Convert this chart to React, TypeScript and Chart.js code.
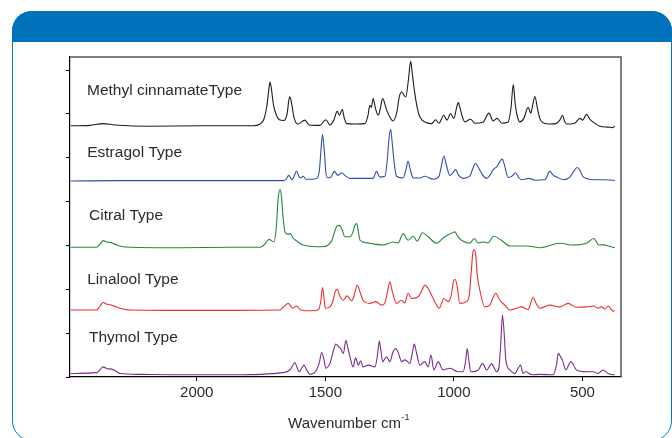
import React, { useEffect, useRef } from "react";
import { Chart, registerables } from "chart.js";

Chart.register(...registerables);

const seriesNames = ["Methyl cinnamateType", "Estragol Type", "Citral Type", "Linalool Type", "Thymol Type"];
const seriesColors = ["#1c1c1c", "#2f4fa8", "#22893c", "#e9302e", "#7a2c8e"];
const xTickValues = [2000, 1500, 1000, 500];
const yTickValues = [0, 1, 2, 3, 4, 5, 6, 7];
const labelAnchors: [number, number][] = [[2427, 6.52], [2426, 5.11], [2419, 3.67], [2426, 2.21], [2419, 0.9]];
const axisTitleMain = "Wavenumber cm";
const axisTitleSup = "-1";

const methylCinnamate: [number, number][] = [
  [2490, 5.73], [2415, 5.74], [2365, 5.78], [2318, 5.75], [2182, 5.72], [1988, 5.73], [1782, 5.73], [1754, 5.77],
  [1739, 5.88], [1727, 6.2], [1719, 6.59], [1715, 6.73], [1710, 6.59], [1702, 6.22], [1692, 6.0], [1676, 5.86],
  [1665, 5.85], [1649, 5.99], [1642, 6.31], [1638, 6.39], [1632, 6.27], [1622, 5.93], [1607, 5.77], [1579, 5.86],
  [1563, 5.75], [1521, 5.74], [1498, 5.87], [1482, 5.75], [1467, 5.86], [1454, 6.06], [1445, 5.97], [1434, 6.1],
  [1426, 5.9], [1417, 5.78], [1385, 5.77], [1346, 5.78], [1334, 5.97], [1327, 6.2], [1321, 6.15], [1314, 6.35],
  [1305, 6.13], [1294, 5.97], [1286, 6.13], [1277, 6.35], [1262, 6.1], [1249, 5.93], [1236, 5.84], [1222, 6.04],
  [1212, 6.4], [1203, 6.5], [1194, 6.43], [1187, 6.39], [1177, 6.77], [1168, 7.2], [1161, 6.88], [1152, 6.47],
  [1142, 6.13], [1132, 5.93], [1106, 5.8], [1086, 5.78], [1071, 5.87], [1058, 5.79], [1039, 5.97], [1027, 5.86],
  [1013, 6.01], [1000, 5.9], [990, 6.13], [983, 6.26], [975, 6.11], [965, 5.9], [957, 5.82], [935, 5.88],
  [918, 5.79], [887, 5.81], [864, 6.02], [847, 5.84], [832, 5.9], [813, 5.79], [790, 5.81], [778, 6.13],
  [769, 6.67], [761, 6.2], [751, 5.9], [743, 5.82], [728, 5.9], [711, 6.15], [701, 6.02], [693, 6.22],
  [685, 6.4], [675, 6.13], [666, 5.9], [653, 5.8], [627, 5.77], [604, 5.78], [588, 5.86], [578, 5.97],
  [569, 5.83], [561, 5.77], [530, 5.79], [510, 5.9], [499, 5.86], [484, 5.99], [471, 5.88], [452, 5.79],
  [432, 5.72], [401, 5.7], [381, 5.69], [374, 5.73],
];

const estragol: [number, number][] = [
  [2490, 4.47], [2299, 4.48], [2065, 4.48], [1832, 4.48], [1665, 4.48], [1653, 4.51], [1642, 4.6], [1630, 4.5],
  [1620, 4.6], [1612, 4.7], [1603, 4.58], [1597, 4.54], [1586, 4.58], [1575, 4.51], [1534, 4.53], [1523, 4.72],
  [1517, 5.17], [1511, 5.53], [1504, 5.17], [1498, 4.67], [1490, 4.54], [1478, 4.56], [1465, 4.69], [1451, 4.6],
  [1437, 4.66], [1424, 4.6], [1404, 4.53], [1365, 4.53], [1314, 4.53], [1301, 4.69], [1288, 4.56], [1268, 4.58],
  [1259, 4.95], [1253, 5.4], [1246, 5.65], [1239, 5.29], [1231, 4.83], [1223, 4.58], [1197, 4.54], [1187, 4.72],
  [1178, 4.92], [1169, 4.72], [1158, 4.54], [1132, 4.54], [1113, 4.58], [1080, 4.51], [1058, 4.58], [1048, 4.83],
  [1039, 5.04], [1029, 4.83], [1016, 4.6], [1006, 4.64], [993, 4.73], [981, 4.6], [964, 4.53], [938, 4.58],
  [926, 4.76], [916, 4.87], [903, 4.76], [887, 4.6], [873, 4.53], [860, 4.6], [847, 4.73], [833, 4.8],
  [821, 4.92], [812, 4.97], [804, 4.85], [789, 4.55], [775, 4.58], [760, 4.66], [749, 4.56], [737, 4.5],
  [707, 4.53], [685, 4.49], [646, 4.5], [627, 4.69], [613, 4.6], [599, 4.56], [575, 4.5], [549, 4.56],
  [534, 4.69], [521, 4.78], [510, 4.72], [499, 4.58], [484, 4.53], [452, 4.5], [413, 4.5], [381, 4.49], [374, 4.48],
];

const citral: [number, number][] = [
  [2490, 2.96], [2389, 2.96], [2376, 3.03], [2364, 3.11], [2349, 3.08], [2331, 3.06], [2314, 3.02], [2299, 2.99],
  [2260, 2.96], [2065, 2.95], [1871, 2.96], [1754, 2.96], [1735, 3.03], [1719, 3.14], [1700, 3.08], [1690, 3.46],
  [1684, 4.03], [1676, 4.28], [1670, 4.08], [1665, 3.69], [1657, 3.31], [1645, 3.26], [1635, 3.27], [1626, 3.17],
  [1612, 3.11], [1599, 3.05], [1586, 3.01], [1534, 2.97], [1513, 2.97], [1489, 3.01], [1474, 3.12], [1463, 3.33],
  [1455, 3.44], [1446, 3.46], [1435, 3.37], [1424, 3.2], [1404, 3.2], [1393, 3.3], [1385, 3.46], [1378, 3.5],
  [1371, 3.3], [1365, 3.12], [1346, 3.07], [1327, 3.05], [1275, 3.01], [1236, 3.08], [1217, 3.06], [1197, 3.27],
  [1178, 3.12], [1158, 3.21], [1143, 3.1], [1122, 3.29], [1100, 3.2], [1067, 3.05], [1042, 3.17], [1016, 3.26],
  [996, 3.31], [985, 3.21], [970, 3.12], [938, 3.05], [921, 3.16], [906, 3.06], [886, 3.08], [867, 3.06],
  [845, 3.21], [815, 3.12], [782, 2.99], [717, 2.99], [666, 2.95], [588, 3.05], [536, 3.01], [484, 3.05],
  [456, 3.16], [435, 3.01], [420, 3.02], [400, 2.99], [381, 2.96], [374, 2.95],
];

const linalool: [number, number][] = [
  [2490, 1.53], [2389, 1.53], [2376, 1.62], [2364, 1.7], [2349, 1.66], [2331, 1.64], [2314, 1.6], [2299, 1.57],
  [2260, 1.53], [1988, 1.52], [1676, 1.53], [1664, 1.59], [1644, 1.68], [1627, 1.57], [1612, 1.62], [1596, 1.53],
  [1547, 1.51], [1525, 1.55], [1517, 1.75], [1511, 2.04], [1504, 1.75], [1500, 1.57], [1482, 1.6], [1470, 1.75],
  [1462, 1.94], [1454, 2.0], [1444, 1.85], [1431, 1.75], [1415, 1.85], [1398, 1.74], [1387, 1.87], [1376, 2.1],
  [1365, 1.94], [1353, 1.75], [1327, 1.68], [1303, 1.72], [1281, 1.64], [1268, 1.69], [1257, 1.98], [1249, 2.17],
  [1239, 1.94], [1223, 1.68], [1204, 1.75], [1191, 1.69], [1178, 1.91], [1165, 1.79], [1139, 1.83], [1124, 1.98],
  [1113, 2.1], [1101, 2.03], [1087, 1.87], [1072, 1.69], [1057, 1.57], [1039, 1.79], [1022, 1.72], [1010, 1.87],
  [1002, 2.17], [996, 2.23], [988, 2.1], [977, 1.68], [951, 1.72], [940, 1.87], [932, 2.43], [926, 2.84],
  [921, 2.91], [915, 2.78], [909, 2.32], [899, 1.98], [880, 1.6], [860, 1.64], [847, 1.82], [838, 1.91],
  [821, 1.75], [802, 1.64], [782, 1.53], [737, 1.6], [711, 1.54], [701, 1.69], [692, 1.82], [681, 1.69],
  [666, 1.57], [627, 1.64], [588, 1.6], [556, 1.68], [523, 1.59], [484, 1.6], [458, 1.62], [439, 1.57],
  [426, 1.6], [413, 1.55], [400, 1.62], [381, 1.5], [374, 1.52],
];

const thymol: [number, number][] = [
  [2490, 0.08], [2389, 0.1], [2376, 0.17], [2364, 0.23], [2349, 0.19], [2331, 0.18], [2314, 0.13], [2299, 0.08],
  [2221, 0.06], [2053, 0.05], [1871, 0.05], [1664, 0.1], [1638, 0.16], [1628, 0.25], [1618, 0.33], [1611, 0.23],
  [1602, 0.12], [1591, 0.21], [1583, 0.27], [1574, 0.18], [1560, 0.06], [1534, 0.16], [1523, 0.34], [1514, 0.56],
  [1505, 0.39], [1498, 0.2], [1482, 0.31], [1470, 0.57], [1459, 0.75], [1449, 0.7], [1441, 0.65], [1430, 0.54],
  [1420, 0.83], [1412, 0.66], [1404, 0.46], [1392, 0.23], [1382, 0.44], [1372, 0.27], [1363, 0.37], [1353, 0.23],
  [1333, 0.27], [1307, 0.23], [1297, 0.5], [1290, 0.82], [1284, 0.61], [1277, 0.35], [1262, 0.46], [1249, 0.35],
  [1237, 0.57], [1226, 0.65], [1216, 0.55], [1203, 0.35], [1190, 0.39], [1171, 0.31], [1161, 0.57], [1154, 0.75],
  [1146, 0.57], [1132, 0.27], [1113, 0.35], [1100, 0.23], [1089, 0.5], [1078, 0.16], [1061, 0.35], [1042, 0.16],
  [1016, 0.2], [983, 0.12], [964, 0.12], [955, 0.34], [948, 0.65], [942, 0.39], [934, 0.12], [905, 0.16],
  [888, 0.31], [873, 0.16], [853, 0.3], [834, 0.12], [825, 0.21], [818, 0.73], [811, 1.41], [804, 0.96],
  [798, 0.39], [782, 0.16], [763, 0.08], [749, 0.21], [741, 0.27], [731, 0.08], [720, 0.12], [698, 0.05],
  [666, 0.06], [614, 0.05], [601, 0.27], [594, 0.54], [585, 0.46], [578, 0.39], [565, 0.16], [545, 0.35],
  [523, 0.16], [484, 0.12], [458, 0.12], [439, 0.08], [420, 0.16], [400, 0.08], [381, 0.05], [374, 0.05],
];

const allSeries = [methylCinnamate, estragol, citral, linalool, thymol];

const FONT = "'Liberation Sans', Arial, sans-serif";
const TEXT_COLOR = "#2b2b2b";

const decorPlugin = {
  id: "decor",
  afterDatasetsDraw(chart: any) {
    const { ctx, chartArea: a, scales } = chart;
    ctx.save();
    ctx.strokeStyle = "#555555";
    ctx.lineWidth = 1.5;
    ctx.beginPath();
    ctx.moveTo(a.left, a.top);
    ctx.lineTo(a.right, a.top);
    ctx.lineTo(a.right, a.bottom);
    ctx.stroke();

    ctx.fillStyle = TEXT_COLOR;
    ctx.textAlign = "left";
    ctx.textBaseline = "middle";
    ctx.font = `15.5px ${FONT}`;
    seriesNames.forEach((name, i) => {
      const px = scales.x.getPixelForValue(labelAnchors[i][0]);
      const py = scales.y.getPixelForValue(labelAnchors[i][1]);
      ctx.fillText(name, px, py);
    });

    ctx.font = `15px ${FONT}`;
    const w1 = ctx.measureText(axisTitleMain).width;
    ctx.font = `9px ${FONT}`;
    const w2 = ctx.measureText(axisTitleSup).width;
    const cx = (a.left + a.right) / 2 + 3;
    const start = cx - (w1 + w2) / 2;
    const ty = a.bottom + 47;
    ctx.font = `15px ${FONT}`;
    ctx.fillText(axisTitleMain, start, ty);
    ctx.font = `9px ${FONT}`;
    ctx.fillText(axisTitleSup, start + w1 + 0.5, ty - 6);
    ctx.restore();
  },
};

export default function App() {
  const ref = useRef<HTMLCanvasElement>(null);
  useEffect(() => {
    if (!ref.current) return;
    const chart = new Chart(ref.current, {
      type: "line",
      data: {
        datasets: allSeries.map((s, i) => ({
          label: seriesNames[i],
          data: s.map(([x, y]) => ({ x, y })),
          borderColor: seriesColors[i],
          backgroundColor: seriesColors[i],
          borderWidth: 1.1,
          pointRadius: 0,
          fill: false,
          cubicInterpolationMode: "monotone" as const,
        })),
      },
      options: {
        responsive: false,
        animation: false,
        events: [],
        layout: { padding: { left: 66, right: 51, top: 57, bottom: 11 } },
        plugins: { legend: { display: false }, tooltip: { enabled: false }, title: { display: false } },
        scales: {
          x: {
            type: "linear",
            reverse: true,
            min: 350,
            max: 2493,
            afterBuildTicks: (scale: any) => {
              scale.ticks = xTickValues.map((v) => ({ value: v }));
            },
            afterFit: (scale: any) => {
              scale.height = 50;
            },
            grid: { display: true, drawOnChartArea: false, drawTicks: true, tickLength: 4, color: "#000", lineWidth: 1 },
            border: { display: true, color: "#000", width: 1.2 },
            ticks: {
              color: TEXT_COLOR,
              font: { family: FONT, size: 15 },
              padding: 3,
              maxRotation: 0,
              callback: (v: any) => String(v),
            },
            title: { display: false },
          },
          y: {
            type: "linear",
            min: 0,
            max: 7.3,
            afterBuildTicks: (scale: any) => {
              scale.ticks = yTickValues.map((v) => ({ value: v }));
            },
            afterFit: (scale: any) => {
              scale.width = 4;
            },
            grid: { display: true, drawOnChartArea: false, drawTicks: true, tickLength: 4, color: "#000", lineWidth: 1 },
            border: { display: true, color: "#000", width: 1.2 },
            ticks: { display: false },
          },
        },
      },
      plugins: [decorPlugin],
    });
    return () => chart.destroy();
  }, []);

  return (
    <div style={{ position: "absolute", left: 0, top: 0, width: 672, height: 438, overflow: "hidden", background: "#fff" }}>
      <div
        style={{
          position: "absolute",
          left: 12,
          top: 11,
          width: 660,
          height: 430,
          boxSizing: "border-box",
          border: "1.5px solid #0a74bd",
          borderRadius: 20,
        }}
      />
      <div
        style={{
          position: "absolute",
          left: 12,
          top: 11,
          width: 660,
          height: 31,
          background: "#0071bb",
          borderRadius: "20px 20px 0 0",
        }}
      />
      <canvas ref={ref} width={672} height={438} style={{ position: "absolute", left: 0, top: 0, width: 672, height: 438 }} />
    </div>
  );
}
